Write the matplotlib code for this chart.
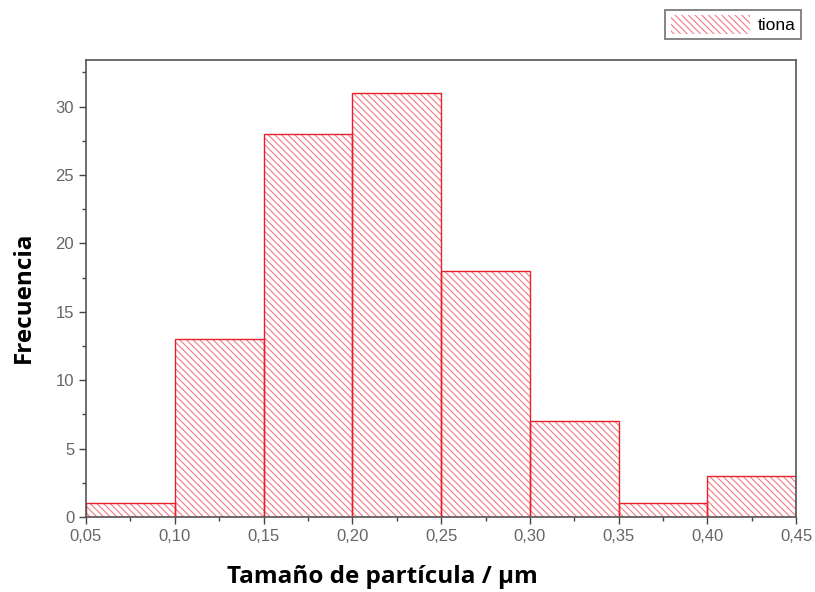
import numpy as np
import matplotlib.pyplot as plt
from matplotlib.ticker import MultipleLocator, FuncFormatter
from matplotlib.patches import Patch

# histogram bins (particle size, um) and counts
bin_edges = [0.05, 0.10, 0.15, 0.20, 0.25, 0.30, 0.35, 0.40, 0.45]
counts = [1, 13, 28, 31, 18, 7, 1, 3]
series_name = "tiona"

plt.rcParams['hatch.linewidth'] = 0.8
hatch_col = '#f27a85'
edge_col = '#e8202a'

fig = plt.figure(figsize=(8.15, 5.92), dpi=100)
ax = fig.add_axes([0.1055, 0.1267, 0.8715, 0.7719])

lefts = np.array(bin_edges[:-1])
widths = np.diff(bin_edges)
# hatch layer (lighter) then outline layer
ax.bar(lefts, counts, width=widths, align='edge', facecolor='white',
       edgecolor=hatch_col, linewidth=0, hatch='\\\\\\\\\\')
ax.bar(lefts, counts, width=widths, align='edge', facecolor='none',
       edgecolor=edge_col, linewidth=1.0)

ax.set_xlim(0.05, 0.45)
ax.set_ylim(0, 33.4)
ax.xaxis.set_major_locator(MultipleLocator(0.05))
ax.xaxis.set_minor_locator(MultipleLocator(0.025))
ax.yaxis.set_major_locator(MultipleLocator(5))
ax.yaxis.set_minor_locator(MultipleLocator(2.5))
ax.xaxis.set_major_formatter(FuncFormatter(lambda v, p: f"{v:.2f}".replace('.', ',')))
ax.yaxis.set_major_formatter(FuncFormatter(lambda v, p: f"{v:.0f}"))

ax.tick_params(which='both', direction='out', colors='#444444', labelcolor='#666666',
               labelsize=12)
ax.tick_params(which='major', length=5, width=1)
ax.tick_params(which='minor', length=3, width=1)
for s in ax.spines.values():
    s.set_color('#555555')
    s.set_linewidth(1.2)

for lab in ax.get_xticklabels() + ax.get_yticklabels():
    lab.set_family('Liberation Sans')

ax.set_xlabel("Tamaño de partícula / µm", fontsize=17.5, fontweight='bold',
              family='Open Sans')
ax.set_ylabel("Frecuencia", fontsize=17.5, fontweight='bold', family='Open Sans')
ax.xaxis.set_label_coords(0.417, -0.105)
ax.yaxis.set_label_coords(-0.071, 0.481)

handle = Patch(facecolor='white', edgecolor=hatch_col, hatch='\\\\\\\\\\', linewidth=0)
leg = ax.legend([handle], [series_name], loc='upper right',
                bbox_to_anchor=(1.006, 1.11), frameon=True,
                fancybox=False, edgecolor='#666666',
                handlelength=4.6, handleheight=1.3, borderpad=0.3,
                handletextpad=0.4, borderaxespad=0,
                prop={'family': 'Liberation Sans', 'size': 12.5})
leg.get_frame().set_linewidth(1.4)

fig.savefig("out.png", dpi=100)
